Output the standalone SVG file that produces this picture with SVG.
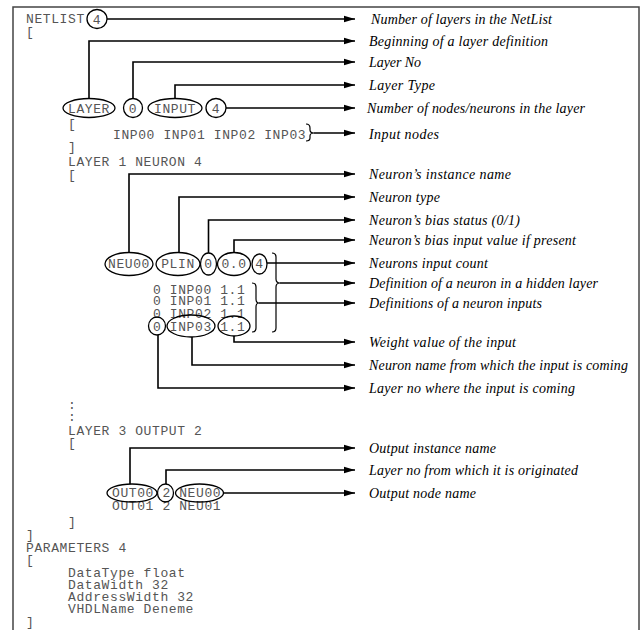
<svg xmlns="http://www.w3.org/2000/svg" width="643" height="630" viewBox="0 0 643 630">
<style>
.code{font-family:"Liberation Mono","Courier New",monospace;font-size:13px;letter-spacing:0.6px;fill:#555}
.mid{text-anchor:middle}
.lbl{font-family:"Liberation Serif","Times New Roman",serif;font-style:italic;font-size:14px;fill:#000}
.ov{fill:none;stroke:#000;stroke-width:1.3}
.con{fill:none;stroke:#000;stroke-width:1.6}
.br{fill:none;stroke:#000;stroke-width:1.2}
</style>
<defs>
<marker id="ah" markerUnits="userSpaceOnUse" markerWidth="11" markerHeight="8" refX="11" refY="4" orient="auto">
<path d="M0,0.8 L11,4 L0,7.2 z" fill="#000"/>
</marker>
</defs>
<rect x="13" y="7" width="626" height="650" fill="#fff" stroke="#444" stroke-width="1.5"/>

<g id="code">
<text class="code" x="26" y="23">NETLIST</text>
<text class="code" x="26" y="36">[</text>
<text class="code" x="68" y="128">[</text>
<text class="code" x="113" y="139">INP00 INP01 INP02 INP03</text>
<text class="code" x="68" y="151">]</text>
<text class="code" x="68" y="166">LAYER 1 NEURON 4</text>
<text class="code" x="68" y="179">[</text>
<text class="code" x="153" y="294">0 INP00 1.1</text>
<text class="code" x="153" y="305">0 INP01 1.1</text>
<text class="code" x="153" y="318">0 INP02 1.1</text>
<text class="code" x="153" y="331">0 INP03 1.1</text>
<text class="code" x="68" y="409">:</text>
<text class="code" x="68" y="421">:</text>
<text class="code" x="68" y="435">LAYER 3 OUTPUT 2</text>
<text class="code" x="68" y="447">[</text>
<text class="code" x="112" y="497">OUT00 2 NEU00</text>
<text class="code" x="112" y="510">OUT01 2 NEU01</text>
<text class="code" x="68" y="526">]</text>
<text class="code" x="26" y="539">]</text>
<text class="code" x="26" y="552">PARAMETERS 4</text>
<text class="code" x="26" y="564">[</text>
<text class="code" x="68" y="577">DataType float</text>
<text class="code" x="68" y="589">DataWidth 32</text>
<text class="code" x="68" y="601">AddressWidth 32</text>
<text class="code" x="68" y="613">VHDLName Deneme</text>
<text class="code" x="26" y="626">]</text>
</g>

<g id="n-netlist-count"><ellipse class="ov" cx="97" cy="19" rx="10" ry="9.5"/><text class="code mid" x="97" y="24">4</text></g>
<g id="n-layer"><ellipse class="ov" cx="89" cy="108" rx="26" ry="9.5"/><text class="code mid" x="89" y="113">LAYER</text></g>
<g id="n-layer-no"><ellipse class="ov" cx="133" cy="108" rx="9.5" ry="9.5"/><text class="code mid" x="133" y="113">0</text></g>
<g id="n-layer-type"><ellipse class="ov" cx="175" cy="108" rx="27" ry="9.5"/><text class="code mid" x="175" y="113">INPUT</text></g>
<g id="n-layer-count"><ellipse class="ov" cx="216" cy="108" rx="10" ry="9.5"/><text class="code mid" x="216" y="113">4</text></g>
<g id="n-input-brace"><path class="br" d="M306,124 Q310,124 310,128 L310,130 Q310,133 314,133 Q310,133 310,136 L310,138 Q310,141 306,141"/></g>

<g id="n-neu-name"><ellipse class="ov" cx="129" cy="264" rx="24" ry="11.5"/><text class="code mid" x="129" y="268">NEU00</text></g>
<g id="n-neu-type"><ellipse class="ov" cx="178" cy="264" rx="22" ry="11.5"/><text class="code mid" x="178" y="268">PLIN</text></g>
<g id="n-neu-bias"><ellipse class="ov" cx="208.5" cy="264" rx="8" ry="11"/><text class="code mid" x="208.5" y="268">0</text></g>
<g id="n-neu-biasval"><ellipse class="ov" cx="234" cy="264" rx="16.5" ry="11.5"/><text class="code mid" x="234" y="268">0.0</text></g>
<g id="n-neu-count"><ellipse class="ov" cx="259.5" cy="264" rx="7.5" ry="10"/><text class="code mid" x="259.5" y="268">4</text></g>
<g id="n-neuron-brace"><path class="br" d="M272,253 Q276,253 276,257 L276,279 Q276,283 280,283 Q276,283 276,287 L276,328 Q276,332 272,332"/></g>
<g id="n-inputs-brace"><path class="br" d="M252,283 Q256,283 256,287 L256,299 Q256,303 259,303 Q256,303 256,307 L256,328 Q256,332 252,332"/></g>
<g id="n-in-layer"><ellipse class="ov" cx="157" cy="326" rx="8.5" ry="9"/></g>
<g id="n-in-name"><ellipse class="ov" cx="191" cy="326" rx="24" ry="11"/></g>
<g id="n-in-weight"><ellipse class="ov" cx="234" cy="326" rx="16" ry="10"/></g>

<g id="n-out-name"><ellipse class="ov" cx="132" cy="493" rx="25" ry="9"/></g>
<g id="n-out-layer"><ellipse class="ov" cx="165.5" cy="493" rx="8" ry="9"/></g>
<g id="n-out-node"><ellipse class="ov" cx="199.5" cy="493" rx="24" ry="9"/></g>

<g id="labels">
<g id="l1"><text class="lbl" x="371" y="24" textLength="181" lengthAdjust="spacing">Number of layers in the NetList</text></g>
<g id="l2"><text class="lbl" x="369" y="46" textLength="179" lengthAdjust="spacing">Beginning of a layer definition</text></g>
<g id="l3"><text class="lbl" x="369" y="67" textLength="52" lengthAdjust="spacing">Layer No</text></g>
<g id="l4"><text class="lbl" x="369" y="90" textLength="66" lengthAdjust="spacing">Layer Type</text></g>
<g id="l5"><text class="lbl" x="367" y="113" textLength="218" lengthAdjust="spacing">Number of nodes/neurons in the layer</text></g>
<g id="l6"><text class="lbl" x="369" y="139" textLength="70" lengthAdjust="spacing">Input nodes</text></g>
<g id="l7"><text class="lbl" x="369" y="179" textLength="142" lengthAdjust="spacing">Neuron’s instance name</text></g>
<g id="l8"><text class="lbl" x="369" y="202" textLength="71" lengthAdjust="spacing">Neuron type</text></g>
<g id="l9"><text class="lbl" x="369" y="225" textLength="151" lengthAdjust="spacing">Neuron’s bias status (0/1)</text></g>
<g id="l10"><text class="lbl" x="369" y="245" textLength="207" lengthAdjust="spacing">Neuron’s bias input value if present</text></g>
<g id="l11"><text class="lbl" x="369" y="268" textLength="119" lengthAdjust="spacing">Neurons input count</text></g>
<g id="l12"><text class="lbl" x="369" y="288" textLength="229" lengthAdjust="spacing">Definition of a neuron in a hidden layer</text></g>
<g id="l13"><text class="lbl" x="369" y="308" textLength="173" lengthAdjust="spacing">Definitions of a neuron inputs</text></g>
<g id="l14"><text class="lbl" x="369" y="347" textLength="147" lengthAdjust="spacing">Weight value of the input</text></g>
<g id="l15"><text class="lbl" x="369" y="370" textLength="259" lengthAdjust="spacing">Neuron name from which the input is coming</text></g>
<g id="l16"><text class="lbl" x="369" y="393" textLength="206" lengthAdjust="spacing">Layer no where the input is coming</text></g>
<g id="l17"><text class="lbl" x="369" y="453" textLength="127" lengthAdjust="spacing">Output instance name</text></g>
<g id="l18"><text class="lbl" x="369" y="475" textLength="209" lengthAdjust="spacing">Layer no from which it is originated</text></g>
<g id="l19"><text class="lbl" x="369" y="498" textLength="107" lengthAdjust="spacing">Output node name</text></g>
</g>

<g id="connectors">
<path class="con" marker-end="url(#ah)" d="M107,19 H355"/>
<path class="con" marker-end="url(#ah)" d="M89,98.5 V41 H355"/>
<path class="con" marker-end="url(#ah)" d="M133,98.5 V62 H355"/>
<path class="con" marker-end="url(#ah)" d="M175,98.5 V85 H355"/>
<path class="con" marker-end="url(#ah)" d="M226,108 H355"/>
<path class="con" marker-end="url(#ah)" d="M314,133 H355"/>
<path class="con" marker-end="url(#ah)" d="M129,252.5 V174 H355"/>
<path class="con" marker-end="url(#ah)" d="M179,252.5 V197 H355"/>
<path class="con" marker-end="url(#ah)" d="M208.5,253 V220 H355"/>
<path class="con" marker-end="url(#ah)" d="M234,252.5 V240 H355"/>
<path class="con" marker-end="url(#ah)" d="M267,263 H355"/>
<path class="con" marker-end="url(#ah)" d="M280,283 H355"/>
<path class="con" marker-end="url(#ah)" d="M259,303 H355"/>
<path class="con" marker-end="url(#ah)" d="M234,336 V342 H355"/>
<path class="con" marker-end="url(#ah)" d="M192,337 V365 H355"/>
<path class="con" marker-end="url(#ah)" d="M158,335 V388 H355"/>
<path class="con" marker-end="url(#ah)" d="M130,484 V448 H355"/>
<path class="con" marker-end="url(#ah)" d="M166,484 V470 H355"/>
<path class="con" marker-end="url(#ah)" d="M223.5,493 H355"/>
</g>
</svg>
